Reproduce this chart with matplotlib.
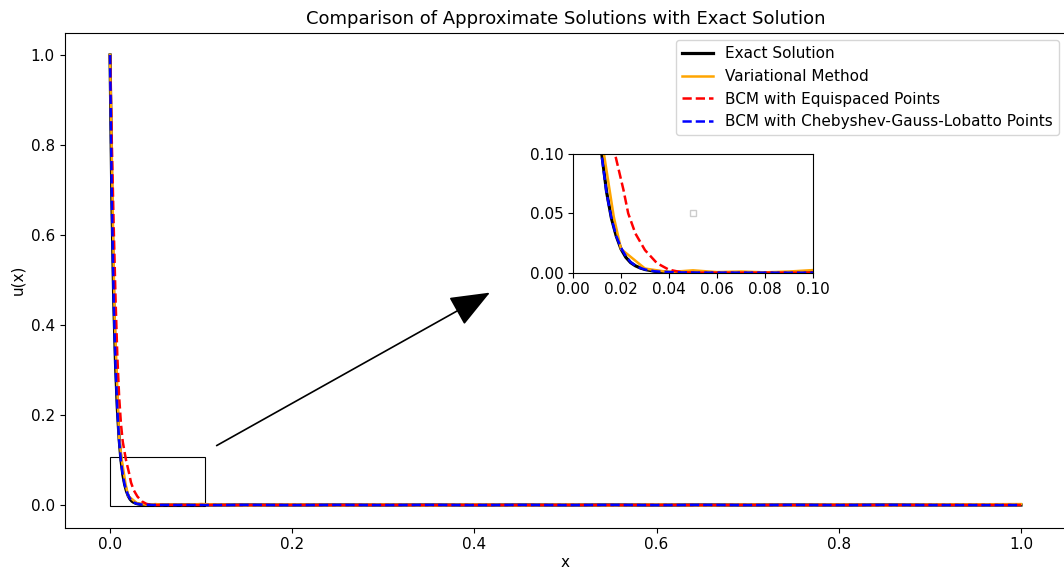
import matplotlib
matplotlib.use("Agg")
import matplotlib.pyplot as plt
from matplotlib.patches import Rectangle

# ---- data ----
x_exact = [0.0, 0.002, 0.004, 0.006, 0.008, 0.010, 0.012, 0.014, 0.016, 0.018,
           0.020, 0.022, 0.024, 0.026, 0.028, 0.030, 0.034, 0.040, 0.050, 0.1,
           0.2, 0.4, 0.6, 0.8, 1.0]
u_exact = [1.0, 0.68, 0.46, 0.315, 0.215, 0.146, 0.10, 0.068, 0.046, 0.031,
           0.020, 0.013, 0.0085, 0.0058, 0.0040, 0.0027, 0.0012, 0.0004, 0.0001, 0.0,
           0.0, 0.0, 0.0, 0.0, 0.0]

x_var = [0.0, 0.005, 0.010, 0.0129, 0.017, 0.020, 0.030, 0.040, 0.050, 0.060,
         0.070, 0.080, 0.090, 0.100, 0.15, 0.20, 0.25, 0.30, 0.35, 0.40, 0.45,
         0.50, 0.55, 0.60, 0.65, 0.70, 0.75, 0.80, 0.85, 0.90, 0.95, 1.0]
u_var = [1.0, 0.42, 0.15, 0.10, 0.047, 0.020, 0.0035, 0.0005, 0.0020, 0.0005,
         0.0010, 0.0003, 0.0010, 0.0022, -0.0010, 0.0012, -0.0008, 0.0010, -0.0010, 0.0012, -0.0008,
         0.0010, -0.0010, 0.0012, -0.0010, 0.0010, -0.0008, 0.0012, -0.0010, 0.0010, 0.0015, 0.0020]

x_equi = [0.0, 0.002, 0.004, 0.006, 0.008, 0.010, 0.012, 0.014, 0.0175, 0.021,
          0.023, 0.026, 0.030, 0.035, 0.040, 0.045, 0.050, 0.1, 0.2, 0.4, 0.6, 0.8, 1.0]
u_equi = [1.0, 0.80, 0.62, 0.46, 0.33, 0.24, 0.18, 0.14, 0.10, 0.070,
          0.050, 0.033, 0.019, 0.008, 0.0025, 0.0005, 0.0, 0.0, 0.0, 0.0, 0.0, 0.0, 0.0]

x_cgl = [0.0, 0.002, 0.004, 0.006, 0.008, 0.010, 0.012, 0.014, 0.016, 0.018,
         0.020, 0.022, 0.024, 0.026, 0.028, 0.030, 0.034, 0.040, 0.050, 0.1,
         0.2, 0.4, 0.6, 0.8, 1.0]
u_cgl = [1.0, 0.67, 0.455, 0.31, 0.212, 0.144, 0.098, 0.067, 0.046, 0.031,
         0.021, 0.014, 0.009, 0.006, 0.004, 0.0027, 0.0012, 0.0004, 0.0001, 0.0,
         0.0, 0.0, 0.0, 0.0, 0.0]

labels = ["Exact Solution", "Variational Method", "BCM with Equispaced Points",
          "BCM with Chebyshev-Gauss-Lobatto Points"]

plt.rcParams["font.size"] = 11

W, H = 1064, 579
fig = plt.figure(figsize=(W / 100, H / 100), dpi=100)
ax = fig.add_axes([64.5 / W, (H - 527.5) / H, 1002 / W, 495 / H])


def draw(a):
    a.plot(x_exact, u_exact, color="black", lw=2.3, label=labels[0])
    a.plot(x_var, u_var, color="orange", lw=1.8, label=labels[1])
    a.plot(x_equi, u_equi, color="red", lw=1.8, ls="--", label=labels[2])
    a.plot(x_cgl, u_cgl, color="blue", lw=1.8, ls="--", label=labels[3])


draw(ax)
ax.set_xlim(-0.05, 1.05)
ax.set_ylim(-0.05, 1.05)
ax.set_xlabel("x", labelpad=2)
ax.set_ylabel("u(x)")
ax.set_title("Comparison of Approximate Solutions with Exact Solution", fontsize=13)
ax.legend(loc="upper right")

ax.add_patch(Rectangle((0.0, -0.002), 0.104, 0.109, fill=False, ec="black", lw=0.8))
ax.annotate("", xy=(0.417, 0.472), xytext=(0.117, 0.132),
            arrowprops=dict(arrowstyle="-|>,head_length=25,head_width=10",
                            mutation_scale=1, color="black", lw=1.2,
                            shrinkA=0, shrinkB=0))

axin = fig.add_axes([573 / W, (H - 272.7) / H, 240 / W, 118.7 / H])
draw(axin)
axin.set_xlim(0, 0.1)
axin.set_ylim(0, 0.1)
axin.set_yticks([0.0, 0.05, 0.10])
axin.plot([0.5], [0.5], marker="s", ms=5, mfc="white", mec="#cccccc", mew=1,
          transform=axin.transAxes)

fig.savefig("out.png", dpi=100)
